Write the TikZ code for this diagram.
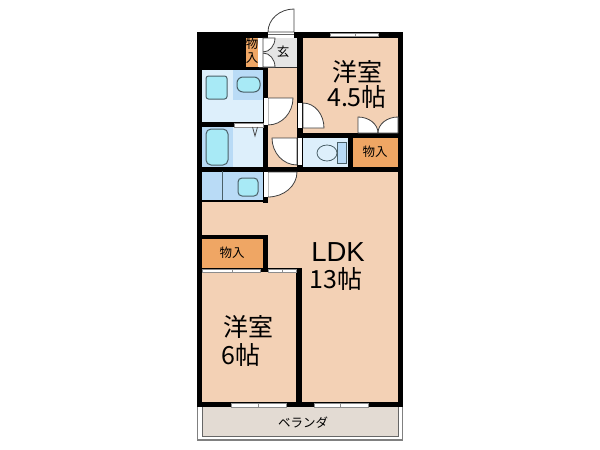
\documentclass[tikz,border=0pt]{standalone}
\usepackage{fontspec}
\setmainfont{Noto Sans CJK JP}
\newfontfamily\latinfont{Liberation Sans}
\definecolor{roomc}{HTML}{F3D1B5}
\definecolor{closetc}{HTML}{EFA664}
\definecolor{wetc}{HTML}{DDEFFB}
\definecolor{wetdark}{HTML}{B9DBF6}
\definecolor{fixc}{HTML}{A8EAF6}
\definecolor{fixline}{HTML}{4A6068}
\definecolor{verandac}{HTML}{E3DBD3}
\tikzset{
  wall/.style={fill=black,draw=none},
  fixture/.style={draw=fixline,line width=1pt,fill=fixc,rounded corners=2.5pt},
  doorleaf/.style={draw=black!75,line width=0.8pt,fill=white},
  windowbar/.style={draw=black!45,line width=0.5pt,fill=white},
  bigtext/.style={font=\fontsize{25}{30}\selectfont,inner sep=0pt},
  smalltext/.style={font=\fontsize{12.5}{14}\selectfont,inner sep=0pt,text=black}
}
\begin{document}
\begin{tikzpicture}[x=1pt,y=-1pt]
    \useasboundingbox (0,0) rectangle (600,450);
    % veranda
    \draw[black!50,line width=1.2pt,fill=white] (197.5,407) -- (197.5,440) -- (402.5,440) -- (402.5,407);
    \draw[black!60,line width=0.8pt,fill=verandac] (202,407) -- (202,436) -- (398,436) -- (398,407);
    % floors
    \fill[roomc] (200,36) rectangle (400,405);
    \fill[closetc] (202,239) rectangle (264,268);
    \fill[closetc] (352,138) rectangle (398,167);
    \fill[closetc] (246,38) rectangle (259,67);
    \fill[black!10] (259,38) rectangle (297,67);
    \fill[wetc] (202,70) rectangle (263,122);
    \fill[wetdark] (233,70) rectangle (263,100);
    \fill[wetc] (202,127) rectangle (263,167);
    \fill[wetdark] (202,127) rectangle (233,167);
    \fill[wetdark] (202,171) rectangle (263,200);
    \fill[wetc] (302,138) rectangle (348,167);
    % walls
    \fill[wall] (197,32) rectangle (268,38);
    \fill[wall] (294,32) rectangle (403,38);
    \fill[wall] (197,32) rectangle (202,407);
    \fill[wall] (398,32) rectangle (403,407);
    \fill[wall] (197,402) rectangle (403,407);
    \fill[wall] (197,38) rectangle (246,70);
    \fill[wall] (246,67) rectangle (268,70);
    \fill[wall] (263,67) rectangle (268,203);
    \fill[wall] (197,122) rectangle (263,127);
    \fill[wall] (197,167) rectangle (403,172);
    \fill[wall] (202,200) rectangle (263,202);
    \fill[wall] (297,32) rectangle (303,172);
    \fill[wall] (303,133) rectangle (403,138);
    \fill[wall] (348,138) rectangle (353,167);
    \fill[wall] (197,235) rectangle (268,239);
    \fill[wall] (263,235) rectangle (268,272);
    \fill[wall] (197,268) rectangle (302,272);
    \fill[wall] (296,268) rectangle (302,407);
    \fill[black!80] (259,67) rectangle (297,68);
    % windows
    \foreach \xa/\xb/\ya/\yb in {330/355/33/36,355/378/33/36,231/258/403/407,258/286/403/407,314/340/403/407,340/368/403/407,202/232/269/272,232/260/269/272,268/282/269/272,282/296/269/272,234/263/123/127}
      \draw[windowbar] (\xa,\ya) rectangle (\xb,\yb);
    % doors
    \fill[white] (268,32) rectangle (294,38);
    \draw[black!60,line width=0.5pt] (268,34) -- (294,34);
    \draw[doorleaf] (294,32) -- (294,9) arc[start angle=270,end angle=180,x radius=26,y radius=23] -- cycle;
    \fill[white] (258,38) rectangle (263,67);
    \draw[doorleaf] (263,38) -- (275,38) arc[start angle=0,end angle=90,x radius=12,y radius=14] -- cycle;
    \draw[doorleaf] (263,67) -- (275,67) arc[start angle=0,end angle=-90,x radius=12,y radius=14] -- cycle;
    \draw[doorleaf] (268,98) -- (293,98) arc[start angle=0,end angle=90,x radius=25,y radius=27] -- cycle;
    \fill[white] (264,98) rectangle (268,125);
    \draw[doorleaf] (268,172) -- (297,172) arc[start angle=0,end angle=90,x radius=29,y radius=25] -- cycle;
    \fill[white] (264,172) rectangle (268,197);
    \draw[doorleaf] (297,138) -- (272,138) arc[start angle=180,end angle=90,x radius=25,y radius=27] -- cycle;
    \fill[white] (298,138) rectangle (302,165);
    \draw[doorleaf] (303,128) -- (303,103) arc[start angle=-90,end angle=0,x radius=21,y radius=25] -- cycle;
    \fill[white] (298,103) rectangle (302,128);
    \draw[doorleaf] (358,133) -- (358,117) arc[start angle=-90,end angle=0,x radius=20,y radius=16] -- cycle;
    \draw[doorleaf] (398,133) -- (398,117) arc[start angle=-90,end angle=-180,x radius=20,y radius=16] -- cycle;
    % fixtures
    \draw[fixture] (206,76) rectangle (227,99);
    \draw[fixture,rounded corners=6pt] (237,77) rectangle (260,92);
    \draw[fixture,rounded corners=5pt] (206,129) rectangle (228,165);
    \draw[fixture,rounded corners=4pt] (238,178) rectangle (258,196);
    \draw[fixline,line width=0.8pt] (222,171) -- (222,200);
    \draw[black!70,line width=0.8pt] (252.5,127) -- (255,136) -- (257.5,127);
    \draw[fixline,line width=0.8pt,fill=wetdark] (337,142) rectangle (346,163);
    \draw[fixline,line width=0.8pt,fill=wetc] (327,153) ellipse[x radius=10,y radius=8];
    % labels
    \node[bigtext] (room1a) at (357,72) {洋室};
    \node[bigtext] (room1b) at (357,97) {4.5帖};
    \node[bigtext,font=\fontsize{27.5}{30}\latinfont] (ldka) at (338,252) {LDK};
    \node[bigtext] (ldkb) at (336,279) {13帖};
    \node[bigtext] (room2a) at (248,327) {洋室};
    \node[bigtext] (room2b) at (241,355) {6帖};
    \node[smalltext] (entry) at (283,52) {玄};
    \node[smalltext] (closeta) at (252,44) {物};
    \node[smalltext] (closetb) at (252,58) {入};
    \node[smalltext] (closetc) at (375,152) {物入};
    \node[smalltext] (closetd) at (232,253) {物入};
    \node[smalltext] (veranda) at (303,423) {ベランダ};
  \end{tikzpicture}
\end{document}
